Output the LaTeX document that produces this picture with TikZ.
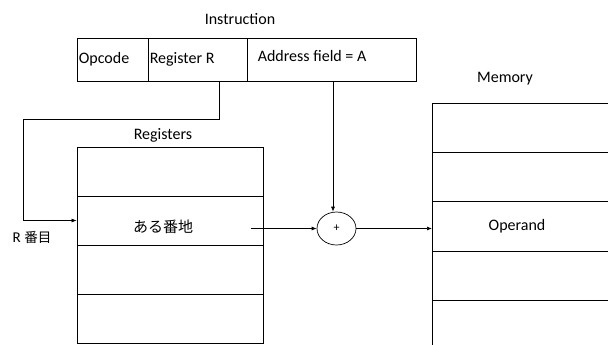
\documentclass[tikz,border=0pt]{standalone}
\usepackage{fontspec}
\setmainfont{Carlito}
\newfontfamily\cjk{Noto Sans CJK JP}
\usetikzlibrary{arrows.meta,shapes.geometric}
\begin{document}
\begin{tikzpicture}[x=1pt,y=-1pt,
  every node/.style={font=\fontsize{16}{19}\selectfont, inner sep=0pt},
  field/.style={draw, line width=0.8pt, minimum height=43pt},
  cell/.style={draw, line width=0.8pt, minimum height=49pt},
  memcell/.style={minimum height=49pt, minimum width=176pt, anchor=north west},
  cellline/.style={line width=0.8pt},
  lbl/.style={anchor=west},
  conn/.style={line width=0.7pt},
  arr/.style={conn, -{Latex[length=5pt,width=4pt]}}]
\useasboundingbox (0,0) rectangle (608,345);
% instruction
\node (title) at (240,19) {Instruction};
\node[field, minimum width=71pt] (opc) at (112.5,59.5) {};
\node[field, minimum width=99pt] (rr) at (197.5,59.5) {};
\node[field, minimum width=169pt] (addr) at (331.5,59.5) {};
\node[lbl] (opct) at ([xshift=2pt]opc.west) {Opcode};
\node[lbl] (rrt) at ([xshift=2pt]rr.west) {Register R};
\node[lbl] (addrt) at ([xshift=11pt,yshift=3pt]addr.west) {Address field = A};
% registers
\node (regt) at (163,135) {Registers};
\node[cell, minimum width=186pt] (r1) at (170,171.5) {};
\node[cell, minimum width=186pt] (r2) at (170,220.5) {};
\node[cell, minimum width=186pt] (r3) at (170,269.5) {};
\node[cell, minimum width=186pt] (r4) at (170,318.5) {};
\node (r2t) at (163,227) {\cjk\fontsize{15}{18}\selectfont ある番地};
\node (rn) at (32,237) {\fontsize{15}{18}\selectfont R {\cjk\fontsize{13.5}{16}\selectfont 番目}};
% memory (extends past the right and bottom edges)
\node (memt) at (505,79) {Memory};
\node[memcell] (m1) at (432,103) {};
\node[memcell] (m2) at (m1.south west) {};
\node[memcell] (m3) at (m2.south west) {};
\node[memcell] (m4) at (m3.south west) {};
\node[memcell] (m5) at (432,299) {};
\draw[cellline] (m1.north east) -- (m1.north west) -- (m1.west |- 0,345);
\draw[cellline] (m1.south west) -- (m1.south east);
\draw[cellline] (m2.south west) -- (m2.south east);
\draw[cellline] (m3.south west) -- (m3.south east);
\draw[cellline] (m4.south west) -- (m4.south east);
\node (opd) at (517,226) {Operand};
% adder
\node[draw, ellipse, line width=0.7pt, minimum width=39pt, minimum height=33pt, font=\fontsize{12}{14}\selectfont] (plus) at (336.5,228.5) {+};
% connectors
\coordinate (tap) at (219,81);
\coordinate (loop) at (23,119);
\coordinate (from) at (251,228.5);
\coordinate (atap) at (333,81);
\draw[arr] (tap) |- (loop) |- (r2.west);
\draw[arr] (atap) -- (atap |- plus.north);
\draw[arr] (from) -- (plus.west);
\draw[arr] (plus.east) -- (plus.east -| m3.west);
\end{tikzpicture}
\end{document}
